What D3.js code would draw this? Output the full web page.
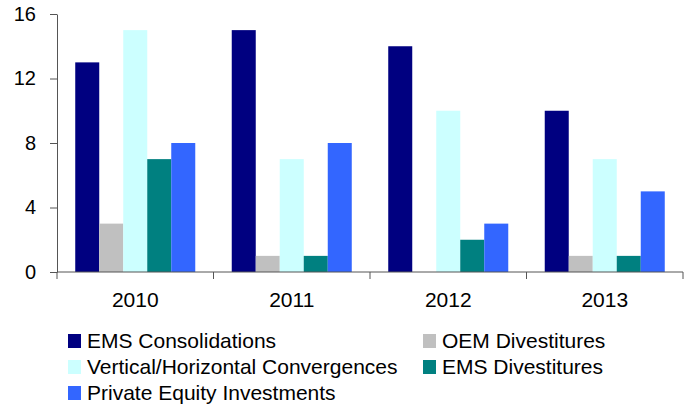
<!DOCTYPE html>
<html>
<head>
<meta charset="utf-8">
<script src="https://cdn.jsdelivr.net/npm/d3@7"></script>
<style>
  body { margin: 0; background: #fff; }
  text { font-family: "Liberation Sans", Arial, sans-serif; fill: #000; }
</style>
</head>
<body>
<svg width="691" height="408"></svg>
<script>
const years = ['2010', '2011', '2012', '2013'];
const seriesNames = ['EMS Consolidations', 'OEM Divestitures', 'Vertical/Horizontal Convergences', 'EMS Divestitures', 'Private Equity Investments'];
const seriesColors = ['#000080', '#c0c0c0', '#ccffff', '#008080', '#3366ff'];
// values per year, in series order
const emsConsolidations = [13, 15, 14, 10];
const oemDivestitures = [3, 1, 0, 1];
const convergences = [15, 7, 10, 7];
const emsDivestitures = [7, 1, 2, 1];
const privateEquity = [8, 8, 3, 5];
const yTicks = [0, 4, 8, 12, 16];

const seriesValues = [emsConsolidations, oemDivestitures, convergences, emsDivestitures, privateEquity];

const svg = d3.select('svg');

const plotLeft = 57, plotRight = 683, plotTop = 14, plotBottom = 272;

const x0 = d3.scaleBand().domain(years).range([plotLeft, plotRight]);
const x1 = d3.scaleBand().domain(seriesNames).range([0, x0.bandwidth()]).paddingOuter(0.76);
const y = d3.scaleLinear().domain([0, 16]).range([plotBottom, plotTop]);

const data = [];
years.forEach((yr, i) => {
	seriesNames.forEach((s, j) => {
		data.push({ year: yr, series: s, value: seriesValues[j][i], color: seriesColors[j] });
	});
});

svg.append('g').selectAll('rect').data(data)
	.enter().append('rect')
		.attr('x', d => x0(d.year) + x1(d.series))
		.attr('y', d => y(d.value))
		.attr('width', x1.bandwidth())
		.attr('height', d => plotBottom - y(d.value))
		.attr('fill', d => d.color);

// y axis
const yAxis = svg.append('g')
	.attr('transform', `translate(${plotLeft},0)`)
	.call(d3.axisLeft(y).tickValues(yTicks).tickSize(7).tickSizeOuter(0).tickPadding(14));
yAxis.select('.domain').attr('stroke', '#555');
yAxis.selectAll('.tick line').attr('stroke', '#555');
yAxis.selectAll('text').attr('font-size', 20).attr('font-family', '"Liberation Sans", Arial, sans-serif');

// x axis
const xAxis = svg.append('g')
	.attr('transform', `translate(0,${plotBottom})`);
xAxis.append('line')
	.attr('x1', plotLeft).attr('x2', plotRight)
	.attr('stroke', '#555');
const bounds = years.map(d => x0(d)).concat([x0.range()[1]]);
xAxis.selectAll('line.tk').data(bounds)
	.enter().append('line')
		.attr('class', 'tk')
		.attr('x1', d => d).attr('x2', d => d)
		.attr('y1', 0).attr('y2', 7)
		.attr('stroke', '#555');
xAxis.selectAll('text').data(years)
	.enter().append('text')
		.attr('x', d => x0(d) + x0.bandwidth() / 2)
		.attr('y', 35)
		.attr('text-anchor', 'middle')
		.attr('font-size', 21)
		.text(d => d);

// legend
const legendCols = [68, 423];
const legendRows = [348, 374, 400];
const legend = svg.append('g');
seriesNames.forEach((s, i) => {
	const cx = legendCols[i % 2];
	const cy = legendRows[Math.floor(i / 2)];
	legend.append('rect')
		.attr('x', cx).attr('y', cy - 14)
		.attr('width', 13).attr('height', 14)
		.attr('fill', seriesColors[i]);
	legend.append('text')
		.attr('x', cx + 19).attr('y', cy)
		.attr('font-size', 21)
		.text(s);
});
</script>
</body>
</html>
